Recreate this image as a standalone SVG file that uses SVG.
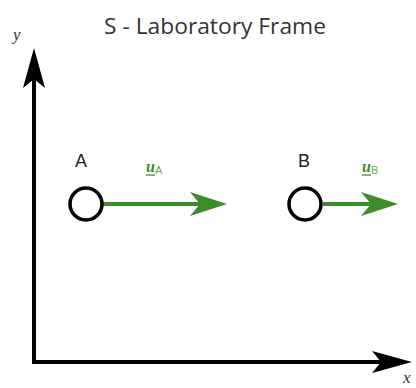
<svg xmlns="http://www.w3.org/2000/svg" width="416" height="388" viewBox="0 0 416 388">
<defs>
<style>
.title{font-family:"Open Sans","Liberation Sans",sans-serif;font-size:21px;fill:#333}
.lbl{font-family:"Liberation Sans",Arial,sans-serif;font-size:18px;fill:#222}
.ax{font-family:"Liberation Serif","Times New Roman",serif;font-style:italic;font-size:17px;fill:#333}
.vel{font-family:"Liberation Serif","Times New Roman",serif;font-style:italic;font-weight:bold;font-size:16px;fill:#3d8b2a}
.sub{font-family:"Liberation Sans",Arial,sans-serif;font-style:normal;font-weight:normal;font-size:11px;fill:#6aa84f}
.ul{stroke:#3d8b2a;stroke-width:1.3}
.node{fill:#fff;stroke:#000;stroke-width:3.5}
.axis{fill:none;stroke:#000;stroke-width:4}
.vec{fill:none;stroke:#3d8b2a;stroke-width:4}
</style>
<marker id="blk" viewBox="0 -12 42 24" markerWidth="42" markerHeight="24" refX="9" refY="0" orient="auto-start-reverse" markerUnits="userSpaceOnUse">
<path d="M40,0 L0,-11 L9,0 L0,11 Z" fill="#000"/>
</marker>
<marker id="grn" viewBox="0 -13 39 26" markerWidth="39" markerHeight="26" refX="10" refY="0" orient="auto" markerUnits="userSpaceOnUse">
<path d="M37,0 L0,-12 L10,0 L0,12 Z" fill="#3d8b2a"/>
</marker>
</defs>
<text class="title" x="215" y="34" text-anchor="middle" textLength="222" lengthAdjust="spacingAndGlyphs">S - Laboratory Frame</text>
<text class="ax" x="13" y="40">y</text>
<text class="ax" x="403" y="383" font-size="13">x</text>
<g id="connectors">
<polyline class="axis" points="34,79 34,362 381,362" marker-start="url(#blk)" marker-end="url(#blk)"/>
<line class="vec" x1="103" y1="204" x2="200" y2="204" marker-end="url(#grn)"/>
<line class="vec" x1="323" y1="204" x2="371" y2="204" marker-end="url(#grn)"/>
</g>
<g id="nodeA">
<circle class="node" cx="86" cy="204" r="16"/>
<text class="lbl" x="81" y="167" text-anchor="middle">A</text>
</g>
<g id="nodeB">
<circle class="node" cx="305" cy="204" r="16"/>
<text class="lbl" x="304" y="167" text-anchor="middle">B</text>
</g>
<g id="labelUA">
<text class="vel" x="146" y="172">u<tspan class="sub" dy="2">A</tspan></text>
<line class="ul" x1="146" y1="175" x2="155" y2="175"/>
</g>
<g id="labelUB">
<text class="vel" x="362" y="172">u<tspan class="sub" dy="2">B</tspan></text>
<line class="ul" x1="362" y1="175" x2="371" y2="175"/>
</g>
</svg>
